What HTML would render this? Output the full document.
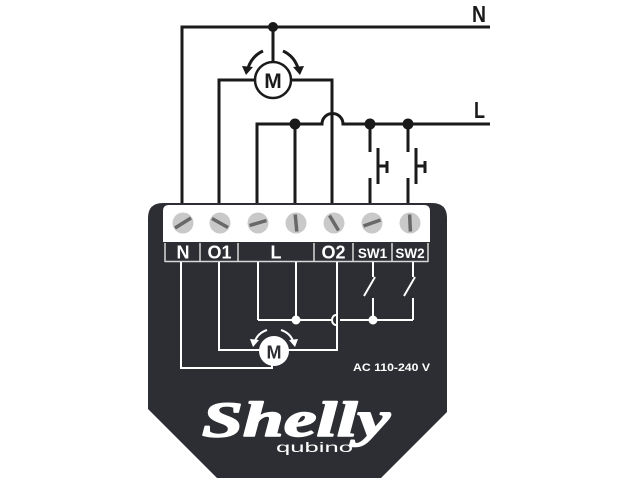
<!DOCTYPE html>
<html>
<head>
<meta charset="utf-8">
<style>
html,body{margin:0;padding:0;background:#fff;}
svg{display:block;}
</style>
</head>
<body>
<svg width="640" height="480" viewBox="0 0 640 480" xmlns="http://www.w3.org/2000/svg">
  <rect width="640" height="480" fill="#ffffff"/>

  <!-- ===== External wiring (black) ===== -->
  <g stroke="#1a1a1a" stroke-width="3" fill="none" stroke-linecap="butt">
    <polyline points="182,204 182,27 490,27"/>
    <line x1="273" y1="27" x2="273" y2="62"/>
    <polyline points="219,204 219,80 255,80"/>
    <polyline points="291,80 332,80 332,204"/>
    <path d="M257,204 V124 H322 A10.5,10.5 0 0 1 343,124 H490"/>
    <line x1="295" y1="124" x2="295" y2="204"/>
    <line x1="370" y1="124" x2="370" y2="152"/>
    <line x1="370" y1="178" x2="370" y2="204"/>
    <line x1="378" y1="148" x2="378" y2="184"/>
    <line x1="378" y1="166" x2="387" y2="166"/>
    <line x1="387" y1="161" x2="387" y2="173"/>
    <line x1="408" y1="124" x2="408" y2="152"/>
    <line x1="408" y1="178" x2="408" y2="204"/>
    <line x1="416" y1="148" x2="416" y2="184"/>
    <line x1="416" y1="166" x2="425" y2="166"/>
    <line x1="425" y1="161" x2="425" y2="173"/>
    <path d="M263,51 Q252,56 248,68"/>
    <path d="M283,51 Q294,56 298,68"/>
  </g>
  <g fill="#1a1a1a">
    <circle cx="273" cy="27" r="5"/>
    <circle cx="295" cy="124" r="5.5"/>
    <circle cx="370" cy="124" r="5.5"/>
    <circle cx="408" cy="124" r="5.5"/>
    <polygon points="242,66 253,67 246,75"/>
    <polygon points="304,66 293,67 300,75"/>
  </g>
  <circle cx="273" cy="80" r="18" fill="#fff" stroke="#1a1a1a" stroke-width="2.5"/>
  <text x="273" y="88" font-family="Liberation Sans, sans-serif" font-weight="bold" font-size="21" text-anchor="middle" fill="#1a1a1a">M</text>

  <text x="472" y="22" font-family="Liberation Sans, sans-serif" font-weight="bold" font-size="23" fill="#1a1a1a" textLength="14" lengthAdjust="spacingAndGlyphs">N</text>
  <text x="474" y="118" font-family="Liberation Sans, sans-serif" font-weight="bold" font-size="23" fill="#1a1a1a" textLength="11" lengthAdjust="spacingAndGlyphs">L</text>

  <!-- ===== Device body ===== -->
  <path d="M148,218 Q148,203 163,203 L432,203 Q447,203 447,218 L447,412 L381,478 L217,478 L148,409 Z" fill="#2c2e33"/>

  <path d="M163,242 V211 Q163,205 169,205 H424 Q430,205 430,211 V242 Z" fill="#ffffff"/>

  <g fill="#c9c9c9">
    <circle cx="183" cy="223" r="10.5"/>
    <circle cx="220" cy="223" r="10.5"/>
    <circle cx="258" cy="223" r="10.5"/>
    <circle cx="296" cy="223" r="10.5"/>
    <circle cx="334" cy="223" r="10.5"/>
    <circle cx="372" cy="223" r="10.5"/>
    <circle cx="410" cy="223" r="10.5"/>
  </g>
  <g stroke="#686868" stroke-width="3.5" stroke-linecap="butt">
    <line x1="175" y1="228" x2="191" y2="218"/>
    <line x1="212" y1="218.5" x2="228" y2="227.5"/>
    <line x1="249.5" y1="225.5" x2="266.5" y2="220.5"/>
    <line x1="295.2" y1="214.5" x2="296.8" y2="231.5"/>
    <line x1="329.5" y1="215.5" x2="338.5" y2="230.5"/>
    <line x1="363.5" y1="226" x2="380.5" y2="220"/>
    <line x1="409.6" y1="214.5" x2="410.4" y2="231.5"/>
  </g>

  <g stroke="#d8d8d8" stroke-width="1.5">
    <line x1="165" y1="243" x2="165" y2="262"/>
    <line x1="200" y1="243" x2="200" y2="262"/>
    <line x1="238" y1="243" x2="238" y2="262"/>
    <line x1="314" y1="243" x2="314" y2="262"/>
    <line x1="353" y1="243" x2="353" y2="262"/>
    <line x1="392" y1="243" x2="392" y2="262"/>
    <line x1="428" y1="243" x2="428" y2="262"/>
    <line x1="165" y1="261.5" x2="428" y2="261.5"/>
  </g>
  <g font-family="Liberation Sans, sans-serif" font-weight="bold" fill="#ffffff" text-anchor="middle">
    <text x="183" y="258.5" font-size="18">N</text>
    <text x="219.5" y="258.5" font-size="18">O1</text>
    <text x="276" y="258.5" font-size="18">L</text>
    <text x="333.5" y="258.5" font-size="18">O2</text>
    <text x="372.5" y="258" font-size="13.5">SW1</text>
    <text x="410" y="258" font-size="13.5">SW2</text>
  </g>

  <g stroke="#ffffff" stroke-width="2" fill="none">
    <polyline points="181,262 181,368 272,368 272,365"/>
    <polyline points="219,262 219,350 260,350"/>
    <polyline points="337,262 337,350 288,350"/>
    <line x1="258" y1="262" x2="258" y2="320"/>
    <line x1="296" y1="262" x2="296" y2="320"/>
    <path d="M258,320 H332"/>
    <path d="M336,315 A4,5 0 0 0 336,325"/>
    <path d="M340,320 H413"/>
    <line x1="373" y1="262" x2="373" y2="277"/>
    <line x1="375" y1="277" x2="364" y2="296"/>
    <line x1="373" y1="298" x2="373" y2="320"/>
    <line x1="413" y1="262" x2="413" y2="277"/>
    <line x1="415" y1="277" x2="404" y2="296"/>
    <line x1="413" y1="298" x2="413" y2="320"/>
    <path d="M267,330 Q258,333 255,341"/>
    <path d="M281,330 Q290,333 293,341"/>
  </g>
  <g fill="#ffffff">
    <circle cx="296" cy="320" r="4.5"/>
    <circle cx="373" cy="320" r="4.5"/>
    <polygon points="250,339 259,340 253,347"/>
    <polygon points="298,339 289,340 295,347"/>
    <circle cx="274" cy="351" r="15"/>
  </g>
  <text x="274" y="358.5" font-family="Liberation Sans, sans-serif" font-weight="bold" font-size="18" text-anchor="middle" fill="#2c2e33">M</text>

  <text x="353" y="371" font-family="Liberation Sans, sans-serif" font-weight="bold" font-size="11" fill="#ffffff" textLength="77" lengthAdjust="spacingAndGlyphs">AC 110-240 V</text>

  <text x="202" y="436" font-family="Liberation Serif, serif" font-weight="bold" font-style="italic" font-size="50" fill="#ffffff" stroke="#ffffff" stroke-width="1.6" stroke-linejoin="round" textLength="188" lengthAdjust="spacingAndGlyphs">Shelly</text>
  <text x="276" y="452" font-family="Liberation Sans, sans-serif" font-size="14" fill="#ffffff" textLength="77" lengthAdjust="spacingAndGlyphs">qubino</text>
</svg>
</body>
</html>
